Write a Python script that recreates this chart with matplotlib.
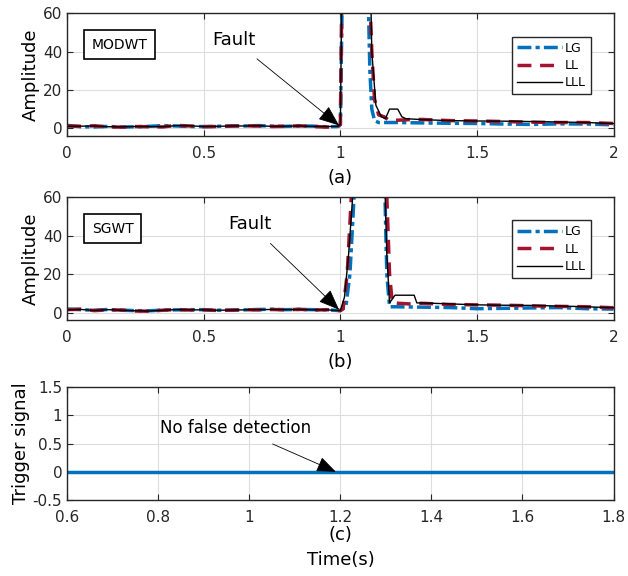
import matplotlib.pyplot as plt
import numpy as np

BLUE = '#0072BD'
RED = '#A2142F'

# (a) MODWT fault amplitudes
modwt_lg_t = [0, .05, .1, .15, .2, .25, .3, .35, .4, .45, .5, .55, .6, .65, .7, .75, .8, .85, .9, .95, .99,
              1.0, 1.008, 1.1, 1.108, 1.115, 1.125, 1.14, 1.2, 1.3, 1.4, 1.5, 1.6, 1.7, 1.8, 1.9, 2.0]
modwt_lg_y = [1.5, 0.8, 0.7, 1.0, 0.6, 0.8, 1.0, 1.4, 1.2, 0.9, 0.9, 1.0, 1.3, 1.2, 1.4, 1.1, 1.0, 1.2, 1.1, 0.8, 0.9,
              2.0, 80, 80, 30, 10, 4.0, 3.0, 3.0, 2.8, 2.6, 2.5, 2.2, 2.0, 2.3, 2.2, 1.8]
modwt_ll_t = [0, .05, .1, .15, .2, .25, .3, .35, .4, .45, .5, .55, .6, .65, .7, .75, .8, .85, .9, .95, .99,
              1.0, 1.006, 1.105, 1.115, 1.125, 1.14, 1.16, 1.18, 1.25, 1.3, 1.4, 1.5, 1.6, 1.7, 1.8, 1.9, 2.0]
modwt_ll_y = [1.2, 1.0, 1.3, 0.7, 0.6, 0.9, 0.8, 0.7, 1.5, 1.2, 0.8, 0.9, 1.1, 1.3, 1.2, 0.9, 1.0, 1.3, 0.9, 0.6, 0.8,
              2.0, 80, 80, 40, 15, 7.0, 6.0, 4.0, 4.5, 4.6, 4.0, 3.8, 3.5, 3.2, 3.0, 3.0, 2.5]
modwt_lll_t = [0, .05, .1, .15, .2, .25, .3, .35, .4, .45, .5, .55, .6, .65, .7, .75, .8, .85, .9, .95, .99,
               1.0, 1.006, 1.11, 1.115, 1.13, 1.15, 1.165, 1.18, 1.21, 1.225, 1.24, 1.3, 1.4, 1.5, 1.6, 1.7, 1.8, 1.9, 2.0]
modwt_lll_y = [1.0, 1.1, 1.2, 0.8, 0.7, 0.9, 0.9, 0.8, 1.4, 1.3, 0.9, 1.0, 1.2, 1.2, 1.3, 1.0, 1.1, 1.2, 1.0, 0.9, 1.0,
               2.0, 80, 80, 40, 12, 6.0, 5.0, 10.0, 10.0, 6.0, 5.0, 4.5, 4.0, 3.8, 3.7, 3.5, 3.3, 3.0, 2.5]

# (b) SGWT fault amplitudes
sgwt_lg_t = [0, .05, .1, .15, .2, .25, .3, .35, .4, .45, .5, .55, .6, .65, .7, .75, .8, .85, .9, .95, 1.0,
             1.02, 1.035, 1.05, 1.055, 1.16, 1.17, 1.18, 1.2, 1.3, 1.4, 1.5, 1.6, 1.7, 1.8, 1.9, 2.0]
sgwt_lg_y = [1.8, 1.5, 1.2, 1.6, 1.2, 1.0, 0.9, 1.3, 1.4, 1.5, 1.5, 1.2, 1.3, 1.4, 1.6, 1.7, 1.5, 1.6, 1.5, 1.4, 1.0,
             3.0, 20, 60, 80, 80, 20, 3.0, 3.0, 2.8, 2.6, 2.0, 2.2, 2.4, 2.6, 2.0, 1.8]
sgwt_ll_t = [0, .05, .1, .15, .2, .25, .3, .35, .4, .45, .5, .55, .6, .65, .7, .75, .8, .85, .9, .95, 1.0,
             1.01, 1.025, 1.04, 1.045, 1.165, 1.18, 1.19, 1.25, 1.3, 1.4, 1.5, 1.6, 1.7, 1.8, 1.9, 2.0]
sgwt_ll_y = [1.5, 1.8, 1.0, 1.4, 1.3, 0.8, 0.7, 1.2, 1.6, 1.3, 1.4, 1.1, 1.2, 1.5, 1.4, 1.6, 1.4, 1.7, 1.3, 1.5, 1.0,
             2.0, 20, 60, 80, 80, 20, 5.0, 4.5, 4.8, 4.2, 4.0, 3.8, 3.5, 3.2, 3.0, 2.5]
sgwt_lll_t = [0, .05, .1, .15, .2, .25, .3, .35, .4, .45, .5, .55, .6, .65, .7, .75, .8, .85, .9, .95, 1.0,
              1.015, 1.03, 1.045, 1.05, 1.16, 1.17, 1.18, 1.2, 1.27, 1.28, 1.3, 1.4, 1.5, 1.6, 1.7, 1.8, 1.9, 2.0]
sgwt_lll_y = [1.4, 1.6, 1.1, 1.5, 1.2, 0.9, 0.8, 1.2, 1.5, 1.4, 1.4, 1.2, 1.3, 1.4, 1.5, 1.6, 1.5, 1.6, 1.4, 1.4, 1.0,
              8.0, 30, 60, 80, 80, 30, 5.0, 9.0, 9.0, 5.0, 5.0, 4.5, 4.0, 3.8, 3.7, 3.4, 3.0, 2.5]

# (c) trigger output
trig_t = [0.6, 1.8]
trig_y = [0, 0]

plt.rcParams['font.family'] = 'DejaVu Sans'
plt.rcParams['xtick.direction'] = 'in'
plt.rcParams['ytick.direction'] = 'in'

fig = plt.figure(figsize=(6.28, 5.76), dpi=100)
ax_a = fig.add_axes([0.107, 0.764, 0.870, 0.213])
ax_b = fig.add_axes([0.107, 0.444, 0.870, 0.214])
ax_c = fig.add_axes([0.107, 0.132, 0.870, 0.196])

ARROW = dict(arrowstyle='-|>,head_length=1.0,head_width=0.4', color='black', lw=0.6, shrinkA=8, shrinkB=0)


def style(ax):
    ax.grid(True, color='#dddddd', lw=0.8)
    ax.set_axisbelow(True)
    for s in ax.spines.values():
        s.set_color('#262626')
        s.set_linewidth(1.0)
    ax.tick_params(top=True, right=True, labelsize=11, colors='#262626', length=4)
    ax.tick_params(axis='x', pad=7)


def amp_panel(ax, series, tag, sub):
    (lg_t, lg_y), (ll_t, ll_y), (lll_t, lll_y) = series
    ax.plot(lg_t, lg_y, color=BLUE, lw=2.5, ls=(0, (4, 1.2, 1.2, 1.2)), label='LG')
    ax.plot(ll_t, ll_y, color=RED, lw=2.5, ls=(0, (4, 2.5)), label='LL')
    ax.plot(lll_t, lll_y, color='black', lw=1.0, label='LLL')
    ax.set_xlim(0, 2)
    ax.set_ylim(-4, 60)
    ax.set_xticks([0, 0.5, 1, 1.5, 2])
    ax.set_xticklabels(['0', '0.5', '1', '1.5', '2'])
    ax.set_yticks([0, 20, 40, 60])
    ax.set_ylabel('Amplitude', fontsize=13, labelpad=2)
    ax.set_xlabel(sub, fontsize=13, labelpad=6)
    style(ax)
    ax.text(0.045, 0.71, tag, transform=ax.transAxes, fontsize=10,
            bbox=dict(boxstyle='square,pad=0.55', fc='white', ec='black', lw=1.2))
    leg = ax.legend(loc='upper right', bbox_to_anchor=(0.97, 0.86), fontsize=9, handlelength=3.6,
                    handletextpad=0.2, borderpad=0.4, labelspacing=0.35, fancybox=False,
                    framealpha=1, edgecolor='#262626')
    leg.get_frame().set_linewidth(1.0)


amp_panel(ax_a, [(modwt_lg_t, modwt_lg_y), (modwt_ll_t, modwt_ll_y), (modwt_lll_t, modwt_lll_y)],
          'MODWT', '(a)')
ax_a.annotate('Fault', xy=(0.995, 1.5), xytext=(0.61, 46), fontsize=13, ha='center', va='center',
              arrowprops=ARROW)

amp_panel(ax_b, [(sgwt_lg_t, sgwt_lg_y), (sgwt_ll_t, sgwt_ll_y), (sgwt_lll_t, sgwt_lll_y)],
          'SGWT', '(b)')
ax_b.annotate('Fault', xy=(0.995, 1.5), xytext=(0.67, 46), fontsize=13, ha='center', va='center',
              arrowprops=ARROW)

ax_c.plot(trig_t, trig_y, color=BLUE, lw=2.5)
ax_c.set_xlim(0.6, 1.8)
ax_c.set_ylim(-0.5, 1.5)
ax_c.set_xticks(np.arange(0.6, 1.81, 0.2))
ax_c.set_xticklabels(['0.6', '0.8', '1', '1.2', '1.4', '1.6', '1.8'])
ax_c.set_yticks([-0.5, 0, 0.5, 1, 1.5])
ax_c.set_yticklabels(['-0.5', '0', '0.5', '1', '1.5'])
ax_c.set_ylabel('Trigger signal', fontsize=13, labelpad=2)
ax_c.set_xlabel('(c)\nTime(s)', fontsize=13, labelpad=1, linespacing=1.5)
style(ax_c)
ax_c.annotate('No false detection', xy=(1.19, 0.0), xytext=(0.97, 0.78), fontsize=12, ha='center', va='center',
              arrowprops=ARROW)

fig.savefig('out.png', dpi=100)
